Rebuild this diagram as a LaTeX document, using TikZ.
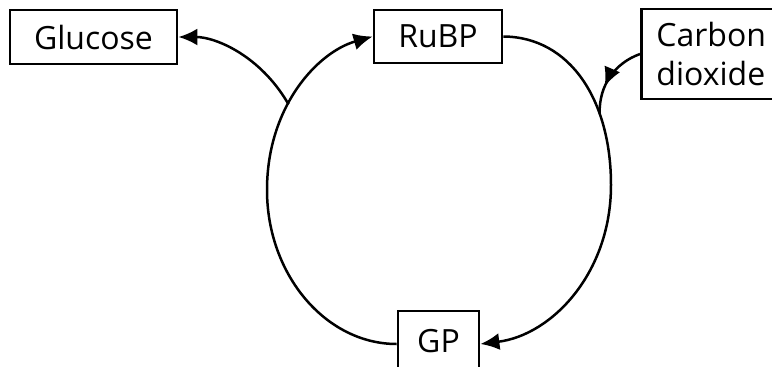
\documentclass[tikz,border=0pt]{standalone}
\usepackage{fontspec}
\setmainfont{Open Sans}
\usetikzlibrary{arrows.meta,decorations.markings}

\tikzset{
  box/.style={draw, line width=2.8pt, rectangle, inner sep=0pt, font=\fontsize{32}{39}\selectfont},
  flow/.style={line width=2.5pt},
  headtip/.style={-{Latex[length=19pt,width=17pt]}},
  midtip/.style={postaction={decorate},
    decoration={markings, mark=at position 0.64 with {\arrow{Latex[length=19pt,width=17pt]}}}}
}

\begin{document}
\begin{tikzpicture}[x=1pt,y=-1pt]
  \useasboundingbox (0,0) rectangle (772,367);

  % compounds of the cycle
  \node[box, minimum width=167pt, minimum height=54pt] (glu) at (93.5,37) {Glucose};
  \node[box, minimum width=128pt, minimum height=53pt] (rubp) at (438,36.5) {RuBP};
  \node[box, minimum width=81pt, minimum height=60pt] (gp) at (438.5,341) {GP};
  \node[box, anchor=west, minimum height=90pt, text width=130pt, align=left,
        inner xsep=15pt] (co2) at (640,54) {Carbon\\dioxide};

  % left half: GP back to RuBP, with the branch to glucose
  \draw[flow, headtip] (gp.west |- 0,344) .. controls (326,344) and (267,275) .. (267,190)
        .. controls (267,106) and (318,52) .. coordinate[pos=0.4] (br) (rubp.west);
  \draw[flow, headtip] (br) .. controls (260,55) and (215,37) .. (glu.east);

  % right half: RuBP fixes carbon dioxide and gives GP
  \draw[flow] (rubp.east) .. controls (570,37) and (611,100) .. coordinate[pos=0.69] (fix) (611,185)
        coordinate (rmax);
  \draw[flow, headtip] (rmax) .. controls (611,273) and (552,335) .. (gp.east |- 0,344);
  \draw[flow, midtip] (co2.west) .. controls (615,63) and (599,85) .. (fix);
\end{tikzpicture}
\end{document}
